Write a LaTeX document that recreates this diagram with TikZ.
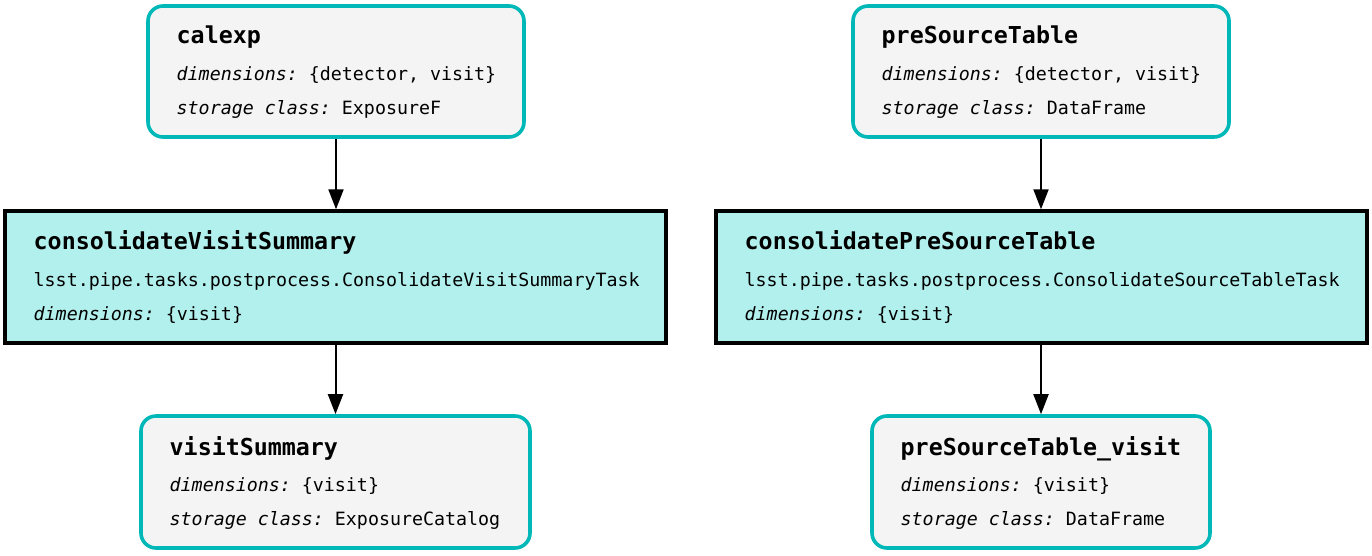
\documentclass[tikz,border=0pt]{standalone}
\usepackage{fontspec}
\setmonofont{DejaVu Sans Mono}
\usetikzlibrary{arrows.meta}
\definecolor{dsborder}{HTML}{00B8B8}
\definecolor{dsfill}{HTML}{F4F4F4}
\definecolor{taskfill}{HTML}{B2F0EE}
\tikzset{
  dsbox/.style={draw=dsborder, fill=dsfill, line width=3.6pt, rounded corners=15pt, minimum height=131pt, inner sep=0pt},
  taskbox/.style={draw=black, fill=taskfill, line width=3.4pt, minimum height=132pt, inner sep=0pt},
  ttl/.style={anchor=base west, inner sep=0pt, font=\ttfamily\bfseries\fontsize{23.3}{28}\selectfont},
  txt/.style={anchor=base west, inner sep=0pt, font=\ttfamily\fontsize{18.3}{22}\selectfont},
  flow/.style={line width=2pt, -{Triangle[length=20pt,width=15pt]}}
}
\begin{document}
\begin{tikzpicture}[x=1pt,y=-1pt]
\useasboundingbox (0,0) rectangle (1372,555);
% boxes
\node[dsbox, minimum width=376pt] (calexp) at (336,71.5) {};
\node[dsbox, minimum width=376pt] (pst) at (1041,71.5) {};
\node[taskbox, minimum width=661pt] (cvs) at (335.5,277) {};
\node[taskbox, minimum width=651pt] (cpst) at (1041.5,277) {};
\node[dsbox, minimum width=389pt, minimum height=132pt] (vs) at (335.5,482) {};
\node[dsbox, minimum width=338pt, minimum height=132pt] (pstv) at (1041,482) {};
% texts: calexp
\node[ttl] (t1a) at (176.5,43) {calexp};
\node[txt] (t1b) at (176.5,80) {\textit{dimensions:} \{detector, visit\}};
\node[txt] (t1c) at (176.5,114) {\textit{storage class:} ExposureF};
% preSourceTable
\node[ttl] (t2a) at (881.5,43) {preSourceTable};
\node[txt] (t2b) at (881.5,80) {\textit{dimensions:} \{detector, visit\}};
\node[txt] (t2c) at (881.5,114) {\textit{storage class:} DataFrame};
% consolidateVisitSummary
\node[ttl] (t3a) at (33.5,249) {consolidateVisitSummary};
\node[txt] (t3b) at (33.5,286) {lsst.pipe.tasks.postprocess.ConsolidateVisitSummaryTask};
\node[txt] (t3c) at (33.5,320) {\textit{dimensions:} \{visit\}};
% consolidatePreSourceTable
\node[ttl] (t4a) at (744.5,249) {consolidatePreSourceTable};
\node[txt] (t4b) at (744.5,286) {lsst.pipe.tasks.postprocess.ConsolidateSourceTableTask};
\node[txt] (t4c) at (744.5,320) {\textit{dimensions:} \{visit\}};
% visitSummary
\node[ttl] (t5a) at (169.5,455) {visitSummary};
\node[txt] (t5b) at (169.5,491) {\textit{dimensions:} \{visit\}};
\node[txt] (t5c) at (169.5,525) {\textit{storage class:} ExposureCatalog};
% preSourceTable_visit
\node[ttl] (t6a) at (900.5,455) {preSourceTable\_visit};
\node[txt] (t6b) at (900.5,491) {\textit{dimensions:} \{visit\}};
\node[txt] (t6c) at (900.5,525) {\textit{storage class:} DataFrame};
% arrows
\draw[flow] (calexp.south) -- (calexp.south |- cvs.north);
\draw[flow] (pst.south) -- (pst.south |- cpst.north);
\draw[flow] (cvs.south -| vs.north) -- (vs.north);
\draw[flow] (cpst.south -| pstv.north) -- (pstv.north);
\end{tikzpicture}
\end{document}
